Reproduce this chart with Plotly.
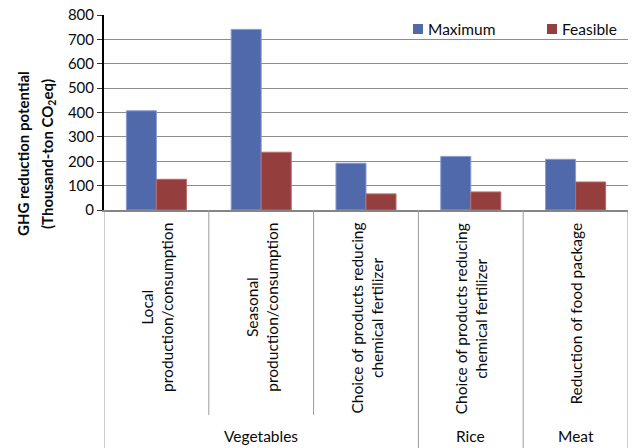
import plotly.graph_objects as go

# Mitigation measures grouped by food type
groups = ["Vegetables", "Vegetables", "Vegetables", "Rice", "Meat"]
measures = [
    "Local<br>production/consumption",
    "Seasonal<br>production/consumption",
    "Choice of products reducing<br>chemical fertilizer",
    "Choice of products reducing<br>chemical fertilizer",
    "Reduction of food package",
]
series_names = ["Maximum", "Feasible"]
maximum = [407, 741, 192, 220, 208]
feasible = [126, 237, 66, 74, 115]
y_ticks = [0, 100, 200, 300, 400, 500, 600, 700, 800]

FONT = "Lato"
TEXT = "#0a0a0a"
COLORS = ["#4f69ab", "#943f3d"]
EDGES = ["#8a9bd0", "#b86a67"]
W, H = 632, 448
L, R, T, B = 104, 4, 15, 238
PW, PH = W - L - R, H - T - B

def px_x(px):
    return (px - L) / PW

def px_y(py):
    return (H - B - py) / PH

xs = list(range(len(measures)))

fig = go.Figure()
for name, vals, col, edge in zip(series_names, [maximum, feasible], COLORS, EDGES):
    fig.add_trace(go.Bar(
        x=xs, y=vals, name=name, showlegend=False,
        marker=dict(color=col, line=dict(color=edge, width=1)),
    ))

shapes = []
# separators under the axis: full height at group borders, shorter between measures
borders = [i - 0.5 for i in range(len(measures) + 1)]
for k, b in enumerate(borders):
    full = k == 0 or k == len(measures) or groups[k - 1] != groups[k]
    shapes.append(dict(
        type="line", xref="x", yref="paper", x0=b, x1=b,
        y0=0, y1=px_y(448) if full else px_y(415),
        line=dict(color="#9a9a9a", width=1),
    ))

annotations = []
for i, m in enumerate(measures):
    annotations.append(dict(
        x=i, y=px_y(221), xref="x", yref="paper", text=m, textangle=-90,
        showarrow=False, xanchor="center", yanchor="top",
        font=dict(family=FONT, size=15.5, color=TEXT),
    ))

# one label per food group, centred over its measures
seen = []
for g in groups:
    if g not in seen:
        seen.append(g)
for g in seen:
    idx = [i for i, gg in enumerate(groups) if gg == g]
    annotations.append(dict(
        x=sum(idx) / len(idx), y=px_y(436), xref="x", yref="paper", text=g,
        showarrow=False, xanchor="center", yanchor="middle",
        font=dict(family=FONT, size=15.5, color=TEXT),
    ))

# y-axis title in two lines
annotations.append(dict(
    x=px_x(23), y=px_y(154), xref="paper", yref="paper",
    text="<b>GHG reduction potential</b>", textangle=-90, showarrow=False,
    xanchor="center", yanchor="middle",
    font=dict(family=FONT, size=15, color=TEXT),
))
annotations.append(dict(
    x=px_x(48), y=px_y(154), xref="paper", yref="paper",
    text="<b>(Thousand-ton CO<sub>2</sub>eq)</b>", textangle=-90, showarrow=False,
    xanchor="center", yanchor="middle",
    font=dict(family=FONT, size=15, color=TEXT),
))

# legend keys inside the top of the plot area
legend_left = [413, 547]
for name, col, lx in zip(series_names, COLORS, legend_left):
    shapes.append(dict(
        type="rect", xref="paper", yref="paper",
        x0=px_x(lx), x1=px_x(lx + 10), y0=px_y(34), y1=px_y(24),
        fillcolor=col, line=dict(width=0),
    ))
    annotations.append(dict(
        x=px_x(lx + 13), y=px_y(29), xref="paper", yref="paper", text=name,
        showarrow=False, xanchor="left", yanchor="middle",
        font=dict(family=FONT, size=15.5, color=TEXT),
    ))

fig.update_layout(
    width=W, height=H,
    margin=dict(l=L, r=R, t=T, b=B, pad=0),
    paper_bgcolor="white", plot_bgcolor="white",
    barmode="group", bargap=0.427, bargroupgap=0,
    font=dict(family=FONT, size=15, color=TEXT),
    shapes=shapes, annotations=annotations, showlegend=False,
    xaxis=dict(
        range=[-0.5, len(measures) - 0.5], showticklabels=False, ticks="",
        showgrid=False, zeroline=False, showline=True,
        linecolor="#858585", linewidth=2, fixedrange=True,
    ),
    yaxis=dict(
        range=[0, 800], tickvals=y_ticks, ticks="outside", ticklen=5,
        tickcolor="#333", tickwidth=1, showgrid=True, gridcolor="#8c8c8c",
        gridwidth=1.2, zeroline=False, showline=True, linecolor="black",
        linewidth=2, tickfont=dict(family=FONT, size=15, color=TEXT),
    ),
)

fig.write_html("out.html")
